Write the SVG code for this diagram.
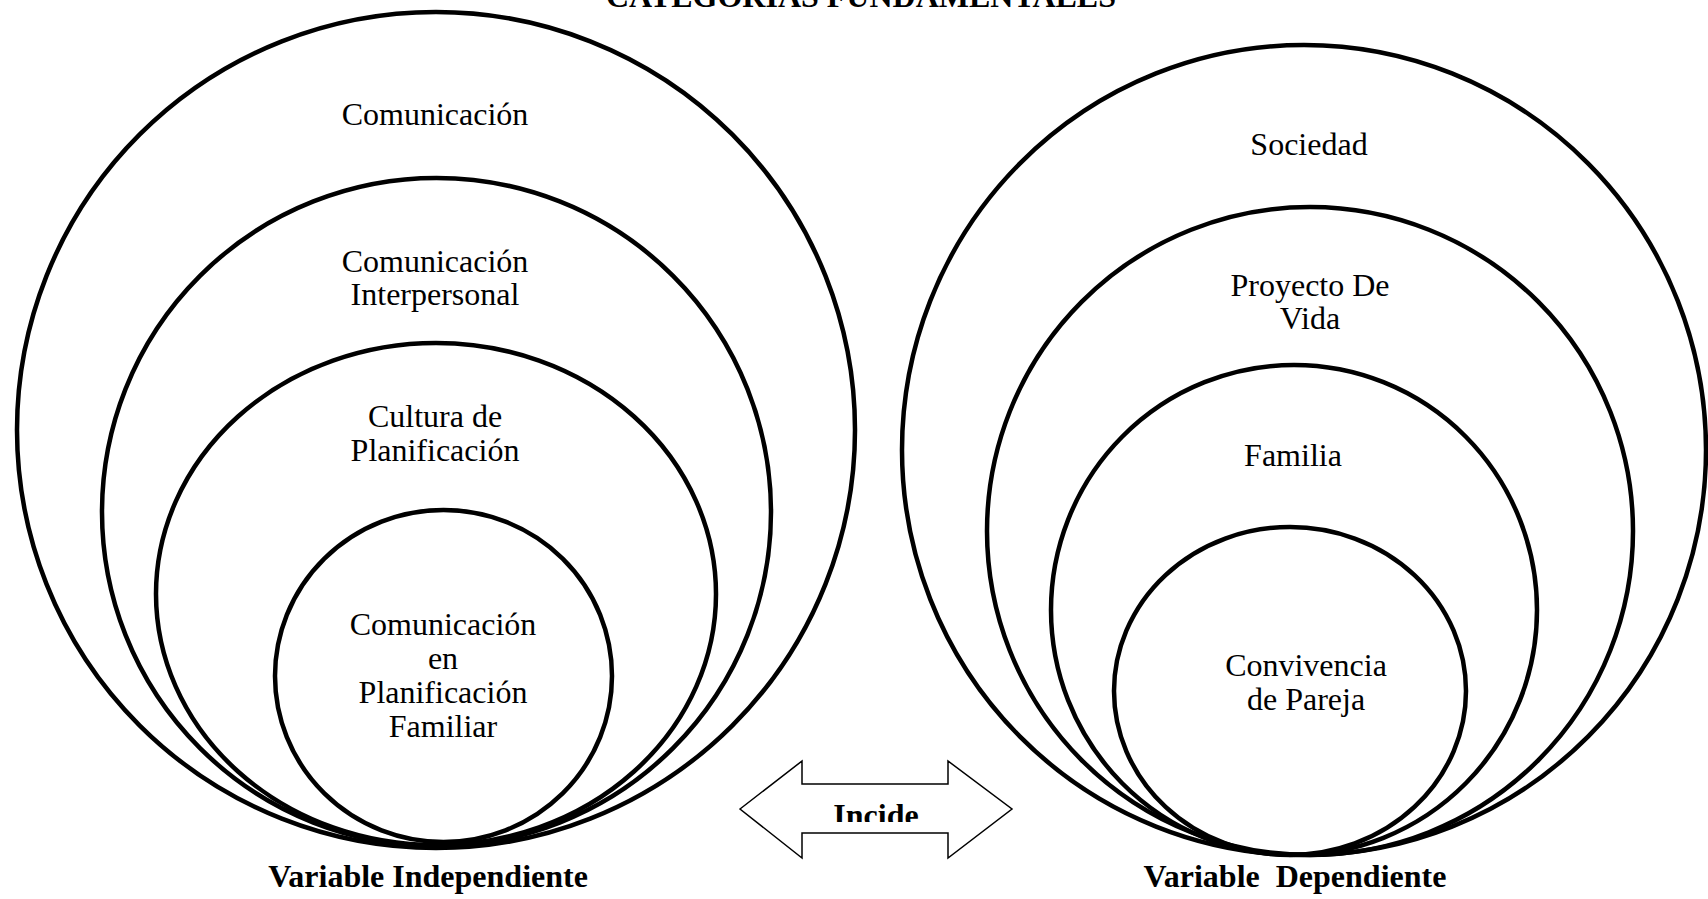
<svg xmlns="http://www.w3.org/2000/svg" width="1708" height="899" viewBox="0 0 1708 899">
<style>
.c{fill:none;stroke:#000;stroke-width:4.5}
.t{font-family:"Liberation Serif","Times New Roman",serif;font-size:32px;fill:#000;text-anchor:middle}
.b{font-family:"Liberation Serif","Times New Roman",serif;font-size:32px;font-weight:bold;fill:#000;text-anchor:middle}
.arr{fill:#fff;stroke:#000;stroke-width:1.5}
</style>
<defs>
<clipPath id="clipIncide"><rect x="800" y="790" width="160" height="32"/></clipPath>
</defs>
<rect width="1708" height="899" fill="#fff"/>
<text class="b" x="861" y="7">CATEGORÍAS FUNDAMENTALES</text>
<g id="left-comunicacion">
<ellipse class="c" cx="436" cy="430" rx="419" ry="418"/>
<text class="t" x="435" y="125">Comunicación</text>
</g>
<g id="left-interpersonal">
<ellipse class="c" cx="436.5" cy="512" rx="334.5" ry="334"/>
<text class="t" x="435" y="272">Comunicación</text>
<text class="t" x="435" y="305">Interpersonal</text>
</g>
<g id="left-cultura">
<ellipse class="c" cx="436" cy="594" rx="280" ry="251"/>
<text class="t" x="435" y="427">Cultura de</text>
<text class="t" x="435" y="461">Planificación</text>
</g>
<g id="left-familiar">
<ellipse class="c" cx="443.5" cy="676" rx="168.5" ry="166"/>
<text class="t" x="443" y="635">Comunicación</text>
<text class="t" x="443" y="669">en</text>
<text class="t" x="443" y="703">Planificación</text>
<text class="t" x="443" y="737">Familiar</text>
</g>
<g id="right-sociedad">
<ellipse class="c" cx="1304" cy="450" rx="402" ry="405"/>
<text class="t" x="1309" y="155">Sociedad</text>
</g>
<g id="right-proyecto">
<ellipse class="c" cx="1310" cy="531" rx="323" ry="324"/>
<text class="t" x="1310" y="296">Proyecto De</text>
<text class="t" x="1310" y="329">Vida</text>
</g>
<g id="right-familia">
<ellipse class="c" cx="1294" cy="610" rx="243" ry="245"/>
<text class="t" x="1293" y="466">Familia</text>
</g>
<g id="right-pareja">
<ellipse class="c" cx="1290" cy="691" rx="176" ry="164"/>
<text class="t" x="1306" y="676">Convivencia</text>
<text class="t" x="1306" y="710">de Pareja</text>
</g>
<g id="connectors">
<polygon class="arr" points="740,809 802,761 802,784 948,784 948,761 1012,809 948,858 948,833 802,833 802,858"/>
<text class="b" x="876" y="826" clip-path="url(#clipIncide)">Incide</text>
</g>
<g id="labels">
<text class="b" x="428" y="887">Variable Independiente</text>
<text class="b" x="1295" y="887" xml:space="preserve">Variable  Dependiente</text>
</g>
</svg>
